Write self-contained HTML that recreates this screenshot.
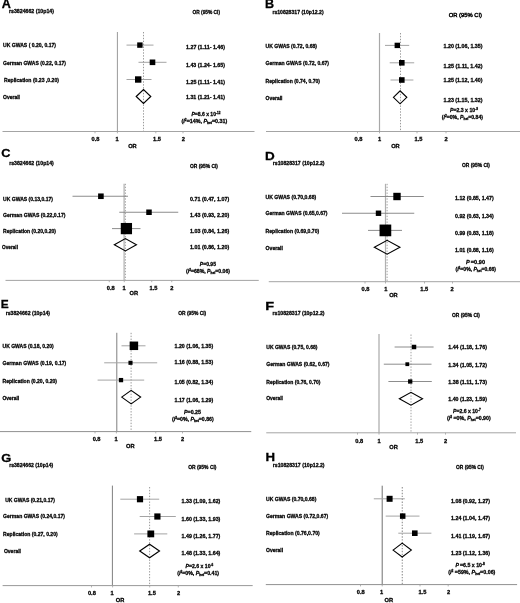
<!DOCTYPE html>
<html lang="en"><head><meta charset="utf-8"><title>Forest plots</title>
<style>
html,body{margin:0;padding:0;background:#fff;}
svg{display:block;font-family:"Liberation Sans",sans-serif;}
text{stroke:#000;stroke-width:0.28px;}
</style></head>
<body>
<svg width="520" height="603" viewBox="0 0 520 603">
<rect width="520" height="603" fill="#fff"/>
<line x1="117.40" y1="32.00" x2="117.40" y2="131.50" stroke="#9a9a9a" stroke-width="1"/>
<line x1="143.50" y1="32.00" x2="143.50" y2="131.50" stroke="#808080" stroke-width="0.8" stroke-dasharray="1.4 1.5"/>
<line x1="2.50" y1="131.50" x2="254.50" y2="131.50" stroke="#a4a4a4" stroke-width="1"/>
<line x1="95.00" y1="131.50" x2="95.00" y2="133.30" stroke="#a0a0a0" stroke-width="0.8"/>
<line x1="117.40" y1="131.50" x2="117.40" y2="133.30" stroke="#a0a0a0" stroke-width="0.8"/>
<line x1="155.80" y1="131.50" x2="155.80" y2="133.30" stroke="#a0a0a0" stroke-width="0.8"/>
<line x1="183.00" y1="131.50" x2="183.00" y2="133.30" stroke="#a0a0a0" stroke-width="0.8"/>
<line x1="126.50" y1="45.10" x2="153.50" y2="45.10" stroke="#a4a4a4" stroke-width="1"/>
<line x1="138.50" y1="62.30" x2="166.50" y2="62.30" stroke="#a4a4a4" stroke-width="1"/>
<line x1="126.50" y1="79.50" x2="151.50" y2="79.50" stroke="#a4a4a4" stroke-width="1"/>
<rect x="137.20" y="42.40" width="5.40" height="5.40" fill="#000"/>
<rect x="149.70" y="59.50" width="5.60" height="5.60" fill="#000"/>
<rect x="135.00" y="76.30" width="6.40" height="6.40" fill="#000"/>
<polygon points="136.22,96.50 143.50,89.60 150.78,96.50 143.50,103.40" fill="none" stroke="#000" stroke-width="1.15" stroke-linejoin="miter"/>
<text transform="translate(1.70,7.80) scale(1.048,1)" font-size="12.06" font-weight="bold" fill="#000">A</text>
<text x="9.00" y="12.74" font-size="5.7" font-weight="bold" fill="#000" textLength="45.00" lengthAdjust="spacingAndGlyphs">rs3824662 (10p14)</text>
<text x="192.50" y="14.04" font-size="5.7" font-weight="bold" fill="#000" textLength="27.50" lengthAdjust="spacingAndGlyphs">OR (95% CI)</text>
<text x="3.00" y="47.04" font-size="5.7" font-weight="bold" fill="#000" textLength="53.00" lengthAdjust="spacingAndGlyphs">UK GWAS ( 0.20, 0.17)</text>
<text x="186.00" y="49.04" font-size="5.7" font-weight="bold" fill="#000" textLength="39.00" lengthAdjust="spacingAndGlyphs">1.27 (1.11- 1.46)</text>
<text x="3.00" y="64.54" font-size="5.7" font-weight="bold" fill="#000" textLength="63.00" lengthAdjust="spacingAndGlyphs">German GWAS (0.22, 0.17)</text>
<text x="186.00" y="66.54" font-size="5.7" font-weight="bold" fill="#000" textLength="39.00" lengthAdjust="spacingAndGlyphs">1.43 (1.24- 1.65)</text>
<text x="4.00" y="82.04" font-size="5.7" font-weight="bold" fill="#000" textLength="55.00" lengthAdjust="spacingAndGlyphs">Replication (0.23 ,0.20)</text>
<text x="186.00" y="83.54" font-size="5.7" font-weight="bold" fill="#000" textLength="39.00" lengthAdjust="spacingAndGlyphs">1.25 (1.11- 1.41)</text>
<text x="3.00" y="99.04" font-size="5.7" font-weight="bold" fill="#000" textLength="17.00" lengthAdjust="spacingAndGlyphs">Overall</text>
<text x="186.00" y="98.54" font-size="5.7" font-weight="bold" fill="#000" textLength="39.00" lengthAdjust="spacingAndGlyphs">1.31 (1.21- 1.41)</text>
<text x="191.50" y="115.64" font-size="5.7" font-weight="bold" fill="#000" textLength="29.00" lengthAdjust="spacingAndGlyphs"><tspan font-style="italic">P</tspan>=8.6 x 10<tspan font-size="3.53" dy="-2.1">-12</tspan></text>
<text x="181.50" y="122.84" font-size="5.7" font-weight="bold" fill="#000" textLength="45.70" lengthAdjust="spacingAndGlyphs">(<tspan font-style="italic">I</tspan><tspan font-size="3.53" dy="-2.1">2</tspan><tspan dy="2.1">=14%, </tspan><tspan font-style="italic">P</tspan><tspan font-size="3.53" dy="1.2">het</tspan><tspan dy="-1.2">=0.31)</tspan></text>
<text x="95.50" y="140.84" font-size="5.7" font-weight="bold" fill="#000" text-anchor="middle">0.8</text>
<text x="117.00" y="140.84" font-size="5.7" font-weight="bold" fill="#000" text-anchor="middle">1</text>
<text x="157.00" y="140.84" font-size="5.7" font-weight="bold" fill="#000" text-anchor="middle">1.5</text>
<text x="183.40" y="140.84" font-size="5.7" font-weight="bold" fill="#000" text-anchor="middle">2</text>
<text x="132.40" y="147.84" font-size="5.7" font-weight="bold" fill="#000" text-anchor="middle">OR</text>
<line x1="379.50" y1="33.00" x2="379.50" y2="131.50" stroke="#a8a8a8" stroke-width="1.2"/>
<line x1="400.50" y1="33.00" x2="400.50" y2="131.50" stroke="#808080" stroke-width="0.8" stroke-dasharray="1.4 1.5"/>
<line x1="266.00" y1="131.50" x2="520.00" y2="131.50" stroke="#a4a4a4" stroke-width="1"/>
<line x1="357.50" y1="131.50" x2="357.50" y2="133.30" stroke="#a0a0a0" stroke-width="0.8"/>
<line x1="379.50" y1="131.50" x2="379.50" y2="133.30" stroke="#a0a0a0" stroke-width="0.8"/>
<line x1="417.00" y1="131.50" x2="417.00" y2="133.30" stroke="#a0a0a0" stroke-width="0.8"/>
<line x1="446.00" y1="131.50" x2="446.00" y2="133.30" stroke="#a0a0a0" stroke-width="0.8"/>
<line x1="385.00" y1="45.40" x2="409.20" y2="45.40" stroke="#a4a4a4" stroke-width="1"/>
<line x1="389.70" y1="62.80" x2="414.20" y2="62.80" stroke="#a4a4a4" stroke-width="1"/>
<line x1="390.50" y1="80.00" x2="413.40" y2="80.00" stroke="#a4a4a4" stroke-width="1"/>
<rect x="394.60" y="42.70" width="5.40" height="5.40" fill="#000"/>
<rect x="399.00" y="60.00" width="5.60" height="5.60" fill="#000"/>
<rect x="399.00" y="77.20" width="5.60" height="5.60" fill="#000"/>
<polygon points="393.41,97.35 400.10,90.90 406.79,97.35 400.10,103.80" fill="none" stroke="#000" stroke-width="1.15" stroke-linejoin="miter"/>
<text transform="translate(264.97,8.10) scale(1.026,1)" font-size="12.28" font-weight="bold" fill="#000">B</text>
<text x="272.40" y="13.64" font-size="5.7" font-weight="bold" fill="#000" textLength="51.20" lengthAdjust="spacingAndGlyphs">rs10828317 (10p12.2)</text>
<text x="448.70" y="17.11" font-size="5.9" font-weight="normal" fill="#000" textLength="33.30" lengthAdjust="spacingAndGlyphs" style="stroke-width:0.42px">OR (95% CI)</text>
<text x="265.50" y="48.04" font-size="5.7" font-weight="bold" fill="#000" textLength="51.50" lengthAdjust="spacingAndGlyphs">UK GWAS (0.72, 0.68)</text>
<text x="443.50" y="47.79" font-size="5.7" font-weight="bold" fill="#000" textLength="39.00" lengthAdjust="spacingAndGlyphs">1.20 (1.06, 1.35)</text>
<text x="265.50" y="65.04" font-size="5.7" font-weight="bold" fill="#000" textLength="63.50" lengthAdjust="spacingAndGlyphs">German GWAS (0.72, 0.67)</text>
<text x="443.50" y="68.29" font-size="5.7" font-weight="bold" fill="#000" textLength="39.00" lengthAdjust="spacingAndGlyphs">1.25 (1.11, 1.42)</text>
<text x="265.50" y="82.54" font-size="5.7" font-weight="bold" fill="#000" textLength="54.50" lengthAdjust="spacingAndGlyphs">Replication (0.74, 0.70)</text>
<text x="443.50" y="82.04" font-size="5.7" font-weight="bold" fill="#000" textLength="39.00" lengthAdjust="spacingAndGlyphs">1.25 (1.12, 1.40)</text>
<text x="265.50" y="99.54" font-size="5.7" font-weight="bold" fill="#000" textLength="17.00" lengthAdjust="spacingAndGlyphs">Overall</text>
<text x="443.50" y="101.54" font-size="5.7" font-weight="bold" fill="#000" textLength="39.00" lengthAdjust="spacingAndGlyphs">1.23 (1.15, 1.32)</text>
<text x="450.00" y="112.24" font-size="5.7" font-weight="bold" fill="#000" textLength="28.00" lengthAdjust="spacingAndGlyphs"><tspan font-style="italic">P</tspan>=2.3 x 10<tspan font-size="3.53" dy="-2.1">-9</tspan></text>
<text x="441.75" y="119.04" font-size="5.7" font-weight="bold" fill="#000" textLength="41.25" lengthAdjust="spacingAndGlyphs">(<tspan font-style="italic">I</tspan><tspan font-size="3.53" dy="-2.1">2</tspan><tspan dy="2.1">=0%, </tspan><tspan font-style="italic">P</tspan><tspan font-size="3.53" dy="1.2">het</tspan><tspan dy="-1.2">=0.84)</tspan></text>
<text x="358.50" y="140.84" font-size="5.7" font-weight="bold" fill="#000" text-anchor="middle">0.8</text>
<text x="379.70" y="140.84" font-size="5.7" font-weight="bold" fill="#000" text-anchor="middle">1</text>
<text x="418.50" y="140.84" font-size="5.7" font-weight="bold" fill="#000" text-anchor="middle">1.5</text>
<text x="446.20" y="140.84" font-size="5.7" font-weight="bold" fill="#000" text-anchor="middle">2</text>
<text x="395.40" y="147.84" font-size="5.7" font-weight="bold" fill="#000" text-anchor="middle">OR</text>
<line x1="124.10" y1="183.80" x2="124.10" y2="280.40" stroke="#b0b0b0" stroke-width="1.2"/>
<line x1="125.40" y1="183.80" x2="125.40" y2="280.40" stroke="#8a8a8a" stroke-width="0.8" stroke-dasharray="1.4 1.5"/>
<line x1="5.50" y1="280.40" x2="258.75" y2="280.40" stroke="#a4a4a4" stroke-width="1"/>
<line x1="109.25" y1="280.40" x2="109.25" y2="282.20" stroke="#a0a0a0" stroke-width="0.8"/>
<line x1="124.25" y1="280.40" x2="124.25" y2="282.20" stroke="#a0a0a0" stroke-width="0.8"/>
<line x1="151.75" y1="280.40" x2="151.75" y2="282.20" stroke="#a0a0a0" stroke-width="0.8"/>
<line x1="171.75" y1="280.40" x2="171.75" y2="282.20" stroke="#a0a0a0" stroke-width="0.8"/>
<line x1="72.50" y1="196.25" x2="128.00" y2="196.25" stroke="#808080" stroke-width="0.9"/>
<line x1="119.25" y1="212.25" x2="178.25" y2="212.25" stroke="#808080" stroke-width="0.9"/>
<line x1="112.00" y1="228.60" x2="140.50" y2="228.60" stroke="#808080" stroke-width="0.9"/>
<rect x="98.10" y="193.45" width="5.60" height="5.60" fill="#000"/>
<rect x="146.25" y="209.50" width="5.50" height="5.50" fill="#000"/>
<rect x="120.78" y="222.97" width="11.25" height="11.25" fill="#000"/>
<polygon points="114.34,244.75 125.38,238.58 136.41,244.75 125.38,250.92" fill="none" stroke="#000" stroke-width="1.15" stroke-linejoin="miter"/>
<text transform="translate(1.23,157.29) scale(1.116,1)" font-size="11.44" font-weight="bold" fill="#000">C</text>
<text x="9.15" y="164.54" font-size="5.7" font-weight="bold" fill="#000" textLength="44.65" lengthAdjust="spacingAndGlyphs">rs3824662 (10p14)</text>
<text x="190.00" y="168.29" font-size="5.7" font-weight="bold" fill="#000" textLength="28.00" lengthAdjust="spacingAndGlyphs">OR (95% CI)</text>
<text x="3.00" y="200.79" font-size="5.7" font-weight="bold" fill="#000" textLength="50.00" lengthAdjust="spacingAndGlyphs">UK GWAS (0.13,0.17)</text>
<text x="190.00" y="200.79" font-size="5.7" font-weight="bold" fill="#000" textLength="39.25" lengthAdjust="spacingAndGlyphs">0.71 (0.47, 1.07)</text>
<text x="3.00" y="217.04" font-size="5.7" font-weight="bold" fill="#000" textLength="62.50" lengthAdjust="spacingAndGlyphs">German GWAS (0.22,0.17)</text>
<text x="190.00" y="217.04" font-size="5.7" font-weight="bold" fill="#000" textLength="39.25" lengthAdjust="spacingAndGlyphs">1.43 (0.93, 2.20)</text>
<text x="3.00" y="233.29" font-size="5.7" font-weight="bold" fill="#000" textLength="53.00" lengthAdjust="spacingAndGlyphs">Replication (0.20,0.20)</text>
<text x="190.00" y="233.29" font-size="5.7" font-weight="bold" fill="#000" textLength="39.25" lengthAdjust="spacingAndGlyphs">1.03 (0.84, 1.26)</text>
<text x="2.00" y="249.04" font-size="5.7" font-weight="bold" fill="#000" textLength="16.00" lengthAdjust="spacingAndGlyphs">Overall</text>
<text x="190.00" y="249.04" font-size="5.7" font-weight="bold" fill="#000" textLength="39.25" lengthAdjust="spacingAndGlyphs">1.01 (0.86, 1.20)</text>
<text x="199.80" y="266.04" font-size="5.7" font-weight="bold" fill="#000" textLength="16.20" lengthAdjust="spacingAndGlyphs"><tspan font-style="italic">P</tspan>=0.95</text>
<text x="186.00" y="273.29" font-size="5.7" font-weight="bold" fill="#000" textLength="44.00" lengthAdjust="spacingAndGlyphs">(<tspan font-style="italic">I</tspan><tspan font-size="3.53" dy="-2.1">2</tspan><tspan dy="2.1">=68%, </tspan><tspan font-style="italic">P</tspan><tspan font-size="3.53" dy="1.2">het</tspan><tspan dy="-1.2">=0.06)</tspan></text>
<text x="110.80" y="289.84" font-size="5.7" font-weight="bold" fill="#000" text-anchor="middle">0.8</text>
<text x="124.20" y="289.84" font-size="5.7" font-weight="bold" fill="#000" text-anchor="middle">1</text>
<text x="153.50" y="289.84" font-size="5.7" font-weight="bold" fill="#000" text-anchor="middle">1.5</text>
<text x="171.90" y="289.84" font-size="5.7" font-weight="bold" fill="#000" text-anchor="middle">2</text>
<text x="133.80" y="295.14" font-size="5.7" font-weight="bold" fill="#000" text-anchor="middle">OR</text>
<line x1="385.50" y1="183.80" x2="385.50" y2="281.70" stroke="#b0b0b0" stroke-width="1.2"/>
<line x1="387.10" y1="183.80" x2="387.10" y2="281.70" stroke="#8a8a8a" stroke-width="0.8" stroke-dasharray="1.4 1.5"/>
<line x1="268.75" y1="281.70" x2="520.00" y2="281.70" stroke="#a4a4a4" stroke-width="1"/>
<line x1="365.00" y1="281.70" x2="365.00" y2="283.50" stroke="#a0a0a0" stroke-width="0.8"/>
<line x1="385.50" y1="281.70" x2="385.50" y2="283.50" stroke="#a0a0a0" stroke-width="0.8"/>
<line x1="424.50" y1="281.70" x2="424.50" y2="283.50" stroke="#a0a0a0" stroke-width="0.8"/>
<line x1="452.50" y1="281.70" x2="452.50" y2="283.50" stroke="#a0a0a0" stroke-width="0.8"/>
<line x1="370.50" y1="196.50" x2="423.75" y2="196.50" stroke="#808080" stroke-width="0.9"/>
<line x1="342.00" y1="213.25" x2="414.25" y2="213.25" stroke="#808080" stroke-width="0.9"/>
<line x1="368.00" y1="230.40" x2="402.00" y2="230.40" stroke="#808080" stroke-width="0.9"/>
<rect x="393.30" y="192.80" width="7.40" height="7.40" fill="#000"/>
<rect x="375.80" y="210.55" width="5.40" height="5.40" fill="#000"/>
<rect x="379.55" y="224.55" width="11.70" height="11.70" fill="#000"/>
<polygon points="374.35,247.25 387.12,240.33 399.90,247.25 387.12,254.17" fill="none" stroke="#000" stroke-width="1.15" stroke-linejoin="miter"/>
<text transform="translate(264.91,159.80) scale(1.146,1)" font-size="11.77" font-weight="bold" fill="#000">D</text>
<text x="272.80" y="164.54" font-size="5.7" font-weight="bold" fill="#000" textLength="51.80" lengthAdjust="spacingAndGlyphs">rs10828317 (10p12.2)</text>
<text x="462.00" y="167.04" font-size="5.7" font-weight="bold" fill="#000" textLength="28.00" lengthAdjust="spacingAndGlyphs">OR (95% CI)</text>
<text x="265.50" y="199.04" font-size="5.7" font-weight="bold" fill="#000" textLength="50.75" lengthAdjust="spacingAndGlyphs">UK GWAS (0.70,0.68)</text>
<text x="455.00" y="200.04" font-size="5.7" font-weight="bold" fill="#000" textLength="38.75" lengthAdjust="spacingAndGlyphs">1.12 (0.85, 1.47)</text>
<text x="265.50" y="215.29" font-size="5.7" font-weight="bold" fill="#000" textLength="62.00" lengthAdjust="spacingAndGlyphs">German GWAS (0.65,0.67)</text>
<text x="455.00" y="217.79" font-size="5.7" font-weight="bold" fill="#000" textLength="38.75" lengthAdjust="spacingAndGlyphs">0.92 (0.63, 1.34)</text>
<text x="265.50" y="232.79" font-size="5.7" font-weight="bold" fill="#000" textLength="53.75" lengthAdjust="spacingAndGlyphs">Replication (0.69,0.70)</text>
<text x="455.00" y="235.04" font-size="5.7" font-weight="bold" fill="#000" textLength="38.75" lengthAdjust="spacingAndGlyphs">0.99 (0.83, 1.18)</text>
<text x="265.50" y="249.54" font-size="5.7" font-weight="bold" fill="#000" textLength="17.50" lengthAdjust="spacingAndGlyphs">Overall</text>
<text x="455.00" y="252.04" font-size="5.7" font-weight="bold" fill="#000" textLength="38.75" lengthAdjust="spacingAndGlyphs">1.01 (0.88, 1.16)</text>
<text x="466.00" y="264.24" font-size="5.7" font-weight="bold" fill="#000" textLength="19.00" lengthAdjust="spacingAndGlyphs"><tspan font-style="italic">P</tspan> =0.90</text>
<text x="455.50" y="271.29" font-size="5.7" font-weight="bold" fill="#000" textLength="40.50" lengthAdjust="spacingAndGlyphs">(<tspan font-style="italic">I</tspan><tspan font-size="3.53" dy="-2.1">2</tspan><tspan dy="2.1">=0%, </tspan><tspan font-style="italic">P</tspan><tspan font-size="3.53" dy="1.2">het</tspan><tspan dy="-1.2">=0.66)</tspan></text>
<text x="365.50" y="290.84" font-size="5.7" font-weight="bold" fill="#000" text-anchor="middle">0.8</text>
<text x="385.80" y="290.84" font-size="5.7" font-weight="bold" fill="#000" text-anchor="middle">1</text>
<text x="424.30" y="290.84" font-size="5.7" font-weight="bold" fill="#000" text-anchor="middle">1.5</text>
<text x="452.20" y="290.84" font-size="5.7" font-weight="bold" fill="#000" text-anchor="middle">2</text>
<text x="393.40" y="297.14" font-size="5.7" font-weight="bold" fill="#000" text-anchor="middle">OR</text>
<line x1="116.80" y1="332.80" x2="116.80" y2="431.60" stroke="#707070" stroke-width="0.9"/>
<line x1="131.10" y1="332.80" x2="131.10" y2="431.60" stroke="#808080" stroke-width="0.8" stroke-dasharray="1.4 1.5"/>
<line x1="0.00" y1="431.60" x2="251.25" y2="431.60" stroke="#909090" stroke-width="1"/>
<line x1="95.00" y1="431.60" x2="95.00" y2="433.40" stroke="#a0a0a0" stroke-width="0.8"/>
<line x1="116.40" y1="431.60" x2="116.40" y2="433.40" stroke="#a0a0a0" stroke-width="0.8"/>
<line x1="155.75" y1="431.60" x2="155.75" y2="433.40" stroke="#a0a0a0" stroke-width="0.8"/>
<line x1="182.50" y1="431.60" x2="182.50" y2="433.40" stroke="#a0a0a0" stroke-width="0.8"/>
<line x1="121.50" y1="345.80" x2="145.50" y2="345.80" stroke="#a4a4a4" stroke-width="1"/>
<line x1="104.20" y1="362.80" x2="157.20" y2="362.80" stroke="#a4a4a4" stroke-width="1"/>
<line x1="97.60" y1="380.10" x2="144.20" y2="380.10" stroke="#a4a4a4" stroke-width="1"/>
<rect x="129.65" y="341.55" width="8.50" height="8.50" fill="#000"/>
<rect x="128.45" y="360.75" width="4.10" height="4.10" fill="#000"/>
<rect x="118.85" y="377.95" width="4.30" height="4.30" fill="#000"/>
<polygon points="121.69,397.10 131.15,390.35 140.61,397.10 131.15,403.85" fill="none" stroke="#000" stroke-width="1.15" stroke-linejoin="miter"/>
<text transform="translate(0.81,308.10) scale(1.025,1)" font-size="11.63" font-weight="bold" fill="#000">E</text>
<text x="5.65" y="314.54" font-size="5.7" font-weight="bold" fill="#000" textLength="44.45" lengthAdjust="spacingAndGlyphs">rs3824662 (10p14)</text>
<text x="178.25" y="314.54" font-size="5.7" font-weight="bold" fill="#000" textLength="28.00" lengthAdjust="spacingAndGlyphs">OR (95% CI)</text>
<text x="2.50" y="348.29" font-size="5.7" font-weight="bold" fill="#000" textLength="51.25" lengthAdjust="spacingAndGlyphs">UK GWAS (0.18, 0.20)</text>
<text x="174.50" y="347.79" font-size="5.7" font-weight="bold" fill="#000" textLength="38.75" lengthAdjust="spacingAndGlyphs">1.20 (1.06, 1.35)</text>
<text x="2.50" y="365.04" font-size="5.7" font-weight="bold" fill="#000" textLength="63.75" lengthAdjust="spacingAndGlyphs">German GWAS (0.19, 0.17)</text>
<text x="174.50" y="363.84" font-size="5.7" font-weight="bold" fill="#000" textLength="38.75" lengthAdjust="spacingAndGlyphs">1.16 (0.88, 1.53)</text>
<text x="2.50" y="382.54" font-size="5.7" font-weight="bold" fill="#000" textLength="54.50" lengthAdjust="spacingAndGlyphs">Replication (0.20, 0.20)</text>
<text x="174.50" y="384.04" font-size="5.7" font-weight="bold" fill="#000" textLength="38.75" lengthAdjust="spacingAndGlyphs">1.05 (0.82, 1.34)</text>
<text x="2.50" y="399.54" font-size="5.7" font-weight="bold" fill="#000" textLength="16.75" lengthAdjust="spacingAndGlyphs">Overall</text>
<text x="174.50" y="401.54" font-size="5.7" font-weight="bold" fill="#000" textLength="38.75" lengthAdjust="spacingAndGlyphs">1.17 (1.06, 1.29)</text>
<text x="184.00" y="413.79" font-size="5.7" font-weight="bold" fill="#000" textLength="17.00" lengthAdjust="spacingAndGlyphs"><tspan font-style="italic">P</tspan>=0.25</text>
<text x="172.00" y="420.79" font-size="5.7" font-weight="bold" fill="#000" textLength="41.75" lengthAdjust="spacingAndGlyphs">(<tspan font-style="italic">I</tspan><tspan font-size="3.53" dy="-2.1">2</tspan><tspan dy="2.1">=0%, </tspan><tspan font-style="italic">P</tspan><tspan font-size="3.53" dy="1.2">het</tspan><tspan dy="-1.2">=0.86)</tspan></text>
<text x="96.60" y="441.34" font-size="5.7" font-weight="bold" fill="#000" text-anchor="middle">0.8</text>
<text x="116.20" y="441.34" font-size="5.7" font-weight="bold" fill="#000" text-anchor="middle">1</text>
<text x="158.00" y="441.34" font-size="5.7" font-weight="bold" fill="#000" text-anchor="middle">1.5</text>
<text x="182.70" y="441.34" font-size="5.7" font-weight="bold" fill="#000" text-anchor="middle">2</text>
<text x="130.30" y="447.84" font-size="5.7" font-weight="bold" fill="#000" text-anchor="middle">OR</text>
<line x1="379.00" y1="334.00" x2="379.00" y2="432.80" stroke="#a8a8a8" stroke-width="1.2"/>
<line x1="411.00" y1="334.50" x2="411.00" y2="432.80" stroke="#8a8a8a" stroke-width="0.8" stroke-dasharray="1.4 1.5"/>
<line x1="266.25" y1="432.80" x2="516.00" y2="432.80" stroke="#a4a4a4" stroke-width="1"/>
<line x1="357.50" y1="432.80" x2="357.50" y2="434.60" stroke="#a0a0a0" stroke-width="0.8"/>
<line x1="379.00" y1="432.80" x2="379.00" y2="434.60" stroke="#a0a0a0" stroke-width="0.8"/>
<line x1="417.50" y1="432.80" x2="417.50" y2="434.60" stroke="#a0a0a0" stroke-width="0.8"/>
<line x1="445.50" y1="432.80" x2="445.50" y2="434.60" stroke="#a0a0a0" stroke-width="0.8"/>
<line x1="394.60" y1="347.00" x2="433.60" y2="347.00" stroke="#808080" stroke-width="0.9"/>
<line x1="383.80" y1="364.20" x2="431.50" y2="364.20" stroke="#808080" stroke-width="0.9"/>
<line x1="388.40" y1="381.50" x2="431.80" y2="381.50" stroke="#808080" stroke-width="0.9"/>
<rect x="411.75" y="344.75" width="4.50" height="4.50" fill="#000"/>
<rect x="405.40" y="362.30" width="3.80" height="3.80" fill="#000"/>
<rect x="408.05" y="379.35" width="4.30" height="4.30" fill="#000"/>
<polygon points="399.39,398.75 410.95,392.33 422.51,398.75 410.95,405.17" fill="none" stroke="#000" stroke-width="1.15" stroke-linejoin="miter"/>
<text transform="translate(265.14,309.80) scale(1.235,1)" font-size="11.77" font-weight="bold" fill="#000">F</text>
<text x="272.50" y="314.54" font-size="5.7" font-weight="bold" fill="#000" textLength="52.00" lengthAdjust="spacingAndGlyphs">rs10828317 (10p12.2)</text>
<text x="452.00" y="317.04" font-size="5.7" font-weight="bold" fill="#000" textLength="28.00" lengthAdjust="spacingAndGlyphs">OR (95% CI)</text>
<text x="266.25" y="349.04" font-size="5.7" font-weight="bold" fill="#000" textLength="51.25" lengthAdjust="spacingAndGlyphs">UK GWAS (0.75, 0.68)</text>
<text x="448.25" y="349.04" font-size="5.7" font-weight="bold" fill="#000" textLength="38.75" lengthAdjust="spacingAndGlyphs">1.44 (1.18, 1.76)</text>
<text x="266.25" y="365.79" font-size="5.7" font-weight="bold" fill="#000" textLength="63.25" lengthAdjust="spacingAndGlyphs">German GWAS (0.62, 0.67)</text>
<text x="448.25" y="366.54" font-size="5.7" font-weight="bold" fill="#000" textLength="38.75" lengthAdjust="spacingAndGlyphs">1.34 (1.05, 1.72)</text>
<text x="266.25" y="383.79" font-size="5.7" font-weight="bold" fill="#000" textLength="54.25" lengthAdjust="spacingAndGlyphs">Replication (0.76, 0.70)</text>
<text x="448.25" y="384.04" font-size="5.7" font-weight="bold" fill="#000" textLength="38.75" lengthAdjust="spacingAndGlyphs">1.38 (1.11, 1.73)</text>
<text x="266.25" y="400.29" font-size="5.7" font-weight="bold" fill="#000" textLength="16.75" lengthAdjust="spacingAndGlyphs">Overall</text>
<text x="448.25" y="401.04" font-size="5.7" font-weight="bold" fill="#000" textLength="38.75" lengthAdjust="spacingAndGlyphs">1.40 (1.23, 1.59)</text>
<text x="453.00" y="412.84" font-size="5.7" font-weight="bold" fill="#000" textLength="27.75" lengthAdjust="spacingAndGlyphs"><tspan font-style="italic">P</tspan>=2.6 x 10<tspan font-size="3.53" dy="-2.1">-7</tspan></text>
<text x="447.00" y="420.04" font-size="5.7" font-weight="bold" fill="#000" textLength="43.75" lengthAdjust="spacingAndGlyphs">(<tspan font-style="italic">I</tspan><tspan font-size="3.53" dy="-2.1">2</tspan><tspan dy="2.1"> =0%, </tspan><tspan font-style="italic">P</tspan><tspan font-size="3.53" dy="1.2">het</tspan><tspan dy="-1.2">=0.90)</tspan></text>
<text x="359.20" y="442.54" font-size="5.7" font-weight="bold" fill="#000" text-anchor="middle">0.8</text>
<text x="379.20" y="442.54" font-size="5.7" font-weight="bold" fill="#000" text-anchor="middle">1</text>
<text x="419.20" y="442.54" font-size="5.7" font-weight="bold" fill="#000" text-anchor="middle">1.5</text>
<text x="445.50" y="442.54" font-size="5.7" font-weight="bold" fill="#000" text-anchor="middle">2</text>
<text x="393.50" y="448.94" font-size="5.7" font-weight="bold" fill="#000" text-anchor="middle">OR</text>
<line x1="112.40" y1="485.60" x2="112.40" y2="585.60" stroke="#707070" stroke-width="0.9"/>
<line x1="149.60" y1="487.00" x2="149.60" y2="585.60" stroke="#808080" stroke-width="0.8" stroke-dasharray="1.4 1.5"/>
<line x1="2.60" y1="585.60" x2="252.70" y2="585.60" stroke="#999" stroke-width="1"/>
<line x1="91.50" y1="585.60" x2="91.50" y2="587.40" stroke="#a0a0a0" stroke-width="0.8"/>
<line x1="112.60" y1="585.60" x2="112.60" y2="587.40" stroke="#a0a0a0" stroke-width="0.8"/>
<line x1="149.70" y1="585.60" x2="149.70" y2="587.40" stroke="#a0a0a0" stroke-width="0.8"/>
<line x1="178.30" y1="585.60" x2="178.30" y2="587.40" stroke="#a0a0a0" stroke-width="0.8"/>
<line x1="120.30" y1="499.20" x2="159.20" y2="499.20" stroke="#a4a4a4" stroke-width="1"/>
<line x1="139.70" y1="516.50" x2="175.80" y2="516.50" stroke="#a4a4a4" stroke-width="1"/>
<line x1="134.10" y1="533.90" x2="167.30" y2="533.90" stroke="#a4a4a4" stroke-width="1"/>
<rect x="136.90" y="496.10" width="6.20" height="6.20" fill="#000"/>
<rect x="154.30" y="513.40" width="6.20" height="6.20" fill="#000"/>
<rect x="147.40" y="530.50" width="6.80" height="6.80" fill="#000"/>
<polygon points="139.71,551.00 149.60,544.25 159.49,551.00 149.60,557.75" fill="none" stroke="#000" stroke-width="1.15" stroke-linejoin="miter"/>
<text transform="translate(1.22,462.38) scale(1.099,1)" font-size="11.79" font-weight="bold" fill="#000">G</text>
<text x="9.15" y="466.84" font-size="5.7" font-weight="bold" fill="#000" textLength="44.05" lengthAdjust="spacingAndGlyphs">rs3824662 (10p14)</text>
<text x="188.20" y="469.34" font-size="5.7" font-weight="bold" fill="#000" textLength="28.30" lengthAdjust="spacingAndGlyphs">OR (95% CI)</text>
<text x="5.20" y="501.54" font-size="5.7" font-weight="bold" fill="#000" textLength="49.80" lengthAdjust="spacingAndGlyphs">UK GWAS (0.21,0.17)</text>
<text x="181.60" y="502.84" font-size="5.7" font-weight="bold" fill="#000" textLength="38.80" lengthAdjust="spacingAndGlyphs">1.33 (1.09, 1.62)</text>
<text x="3.10" y="518.34" font-size="5.7" font-weight="bold" fill="#000" textLength="61.90" lengthAdjust="spacingAndGlyphs">German GWAS (0.24,0.17)</text>
<text x="181.60" y="520.54" font-size="5.7" font-weight="bold" fill="#000" textLength="38.80" lengthAdjust="spacingAndGlyphs">1.60 (1.33, 1.93)</text>
<text x="3.10" y="536.14" font-size="5.7" font-weight="bold" fill="#000" textLength="54.60" lengthAdjust="spacingAndGlyphs">Replication (0.27, 0.20)</text>
<text x="181.60" y="538.04" font-size="5.7" font-weight="bold" fill="#000" textLength="38.80" lengthAdjust="spacingAndGlyphs">1.49 (1.26, 1.77)</text>
<text x="3.90" y="553.24" font-size="5.7" font-weight="bold" fill="#000" textLength="17.10" lengthAdjust="spacingAndGlyphs">Overall</text>
<text x="181.60" y="555.04" font-size="5.7" font-weight="bold" fill="#000" textLength="38.80" lengthAdjust="spacingAndGlyphs">1.48 (1.33, 1.64)</text>
<text x="185.60" y="567.84" font-size="5.7" font-weight="bold" fill="#000" textLength="27.80" lengthAdjust="spacingAndGlyphs"><tspan font-style="italic">P</tspan>=2.6 x 10<tspan font-size="3.53" dy="-2.1">-6</tspan></text>
<text x="177.20" y="574.94" font-size="5.7" font-weight="bold" fill="#000" textLength="41.90" lengthAdjust="spacingAndGlyphs">(<tspan font-style="italic">I</tspan><tspan font-size="3.53" dy="-2.1">2</tspan><tspan dy="2.1">=0%, </tspan><tspan font-style="italic">P</tspan><tspan font-size="3.53" dy="1.2">het</tspan><tspan dy="-1.2">=0.41)</tspan></text>
<text x="91.90" y="594.84" font-size="5.7" font-weight="bold" fill="#000" text-anchor="middle">0.8</text>
<text x="112.00" y="594.84" font-size="5.7" font-weight="bold" fill="#000" text-anchor="middle">1</text>
<text x="151.90" y="594.84" font-size="5.7" font-weight="bold" fill="#000" text-anchor="middle">1.5</text>
<text x="178.50" y="594.84" font-size="5.7" font-weight="bold" fill="#000" text-anchor="middle">2</text>
<text x="120.10" y="602.44" font-size="5.7" font-weight="bold" fill="#000" text-anchor="middle">OR</text>
<line x1="382.20" y1="485.70" x2="382.20" y2="584.60" stroke="#707070" stroke-width="1"/>
<line x1="402.30" y1="487.00" x2="402.30" y2="584.60" stroke="#9a9a9a" stroke-width="1.2" stroke-dasharray="1.4 1.5"/>
<line x1="265.80" y1="584.60" x2="517.10" y2="584.60" stroke="#909090" stroke-width="1"/>
<line x1="360.50" y1="584.60" x2="360.50" y2="586.40" stroke="#a0a0a0" stroke-width="0.8"/>
<line x1="382.20" y1="584.60" x2="382.20" y2="586.40" stroke="#a0a0a0" stroke-width="0.8"/>
<line x1="420.00" y1="584.60" x2="420.00" y2="586.40" stroke="#a0a0a0" stroke-width="0.8"/>
<line x1="448.20" y1="584.60" x2="448.20" y2="586.40" stroke="#a0a0a0" stroke-width="0.8"/>
<line x1="373.80" y1="498.80" x2="404.80" y2="498.80" stroke="#a4a4a4" stroke-width="1"/>
<line x1="385.70" y1="516.10" x2="419.50" y2="516.10" stroke="#a4a4a4" stroke-width="1"/>
<line x1="398.30" y1="533.20" x2="431.40" y2="533.20" stroke="#a4a4a4" stroke-width="1"/>
<rect x="386.60" y="495.80" width="6.00" height="6.00" fill="#000"/>
<rect x="399.95" y="513.35" width="5.50" height="5.50" fill="#000"/>
<rect x="412.00" y="530.40" width="5.60" height="5.60" fill="#000"/>
<polygon points="393.07,550.10 402.20,543.16 411.33,550.10 402.20,557.04" fill="none" stroke="#000" stroke-width="1.15" stroke-linejoin="miter"/>
<text transform="translate(265.43,461.40) scale(1.125,1)" font-size="11.77" font-weight="bold" fill="#000">H</text>
<text x="272.80" y="466.84" font-size="5.7" font-weight="bold" fill="#000" textLength="51.80" lengthAdjust="spacingAndGlyphs">rs10828317 (10p12.2)</text>
<text x="456.00" y="469.34" font-size="5.7" font-weight="bold" fill="#000" textLength="27.80" lengthAdjust="spacingAndGlyphs">OR (95% CI)</text>
<text x="266.00" y="501.34" font-size="5.7" font-weight="bold" fill="#000" textLength="50.40" lengthAdjust="spacingAndGlyphs">UK GWAS (0.70,0.68)</text>
<text x="451.00" y="502.84" font-size="5.7" font-weight="bold" fill="#000" textLength="39.10" lengthAdjust="spacingAndGlyphs">1.08 (0.92, 1.27)</text>
<text x="266.00" y="517.84" font-size="5.7" font-weight="bold" fill="#000" textLength="62.20" lengthAdjust="spacingAndGlyphs">German GWAS (0.72,0.67)</text>
<text x="451.00" y="520.44" font-size="5.7" font-weight="bold" fill="#000" textLength="39.10" lengthAdjust="spacingAndGlyphs">1.24 (1.04, 1.47)</text>
<text x="266.00" y="535.34" font-size="5.7" font-weight="bold" fill="#000" textLength="53.80" lengthAdjust="spacingAndGlyphs">Replication (0.76,0.70)</text>
<text x="451.00" y="538.04" font-size="5.7" font-weight="bold" fill="#000" textLength="39.10" lengthAdjust="spacingAndGlyphs">1.41 (1.19, 1.67)</text>
<text x="266.00" y="552.44" font-size="5.7" font-weight="bold" fill="#000" textLength="17.10" lengthAdjust="spacingAndGlyphs">Overall</text>
<text x="451.00" y="554.54" font-size="5.7" font-weight="bold" fill="#000" textLength="39.10" lengthAdjust="spacingAndGlyphs">1.23 (1.12, 1.36)</text>
<text x="455.50" y="567.24" font-size="5.7" font-weight="bold" fill="#000" textLength="29.40" lengthAdjust="spacingAndGlyphs"><tspan font-style="italic">P</tspan> =6.5 x 10<tspan font-size="3.53" dy="-2.1">-8</tspan></text>
<text x="448.20" y="574.14" font-size="5.7" font-weight="bold" fill="#000" textLength="47.20" lengthAdjust="spacingAndGlyphs">(<tspan font-style="italic">I</tspan><tspan font-size="3.53" dy="-2.1">2</tspan><tspan dy="2.1"> =59%, </tspan><tspan font-style="italic">P</tspan><tspan font-size="3.53" dy="1.2">het</tspan><tspan dy="-1.2">=0.06)</tspan></text>
<text x="360.80" y="593.84" font-size="5.7" font-weight="bold" fill="#000" text-anchor="middle">0.8</text>
<text x="381.50" y="593.84" font-size="5.7" font-weight="bold" fill="#000" text-anchor="middle">1</text>
<text x="422.40" y="593.84" font-size="5.7" font-weight="bold" fill="#000" text-anchor="middle">1.5</text>
<text x="448.50" y="593.84" font-size="5.7" font-weight="bold" fill="#000" text-anchor="middle">2</text>
<text x="388.80" y="602.44" font-size="5.7" font-weight="bold" fill="#000" text-anchor="middle">OR</text>
</svg>
</body></html>
